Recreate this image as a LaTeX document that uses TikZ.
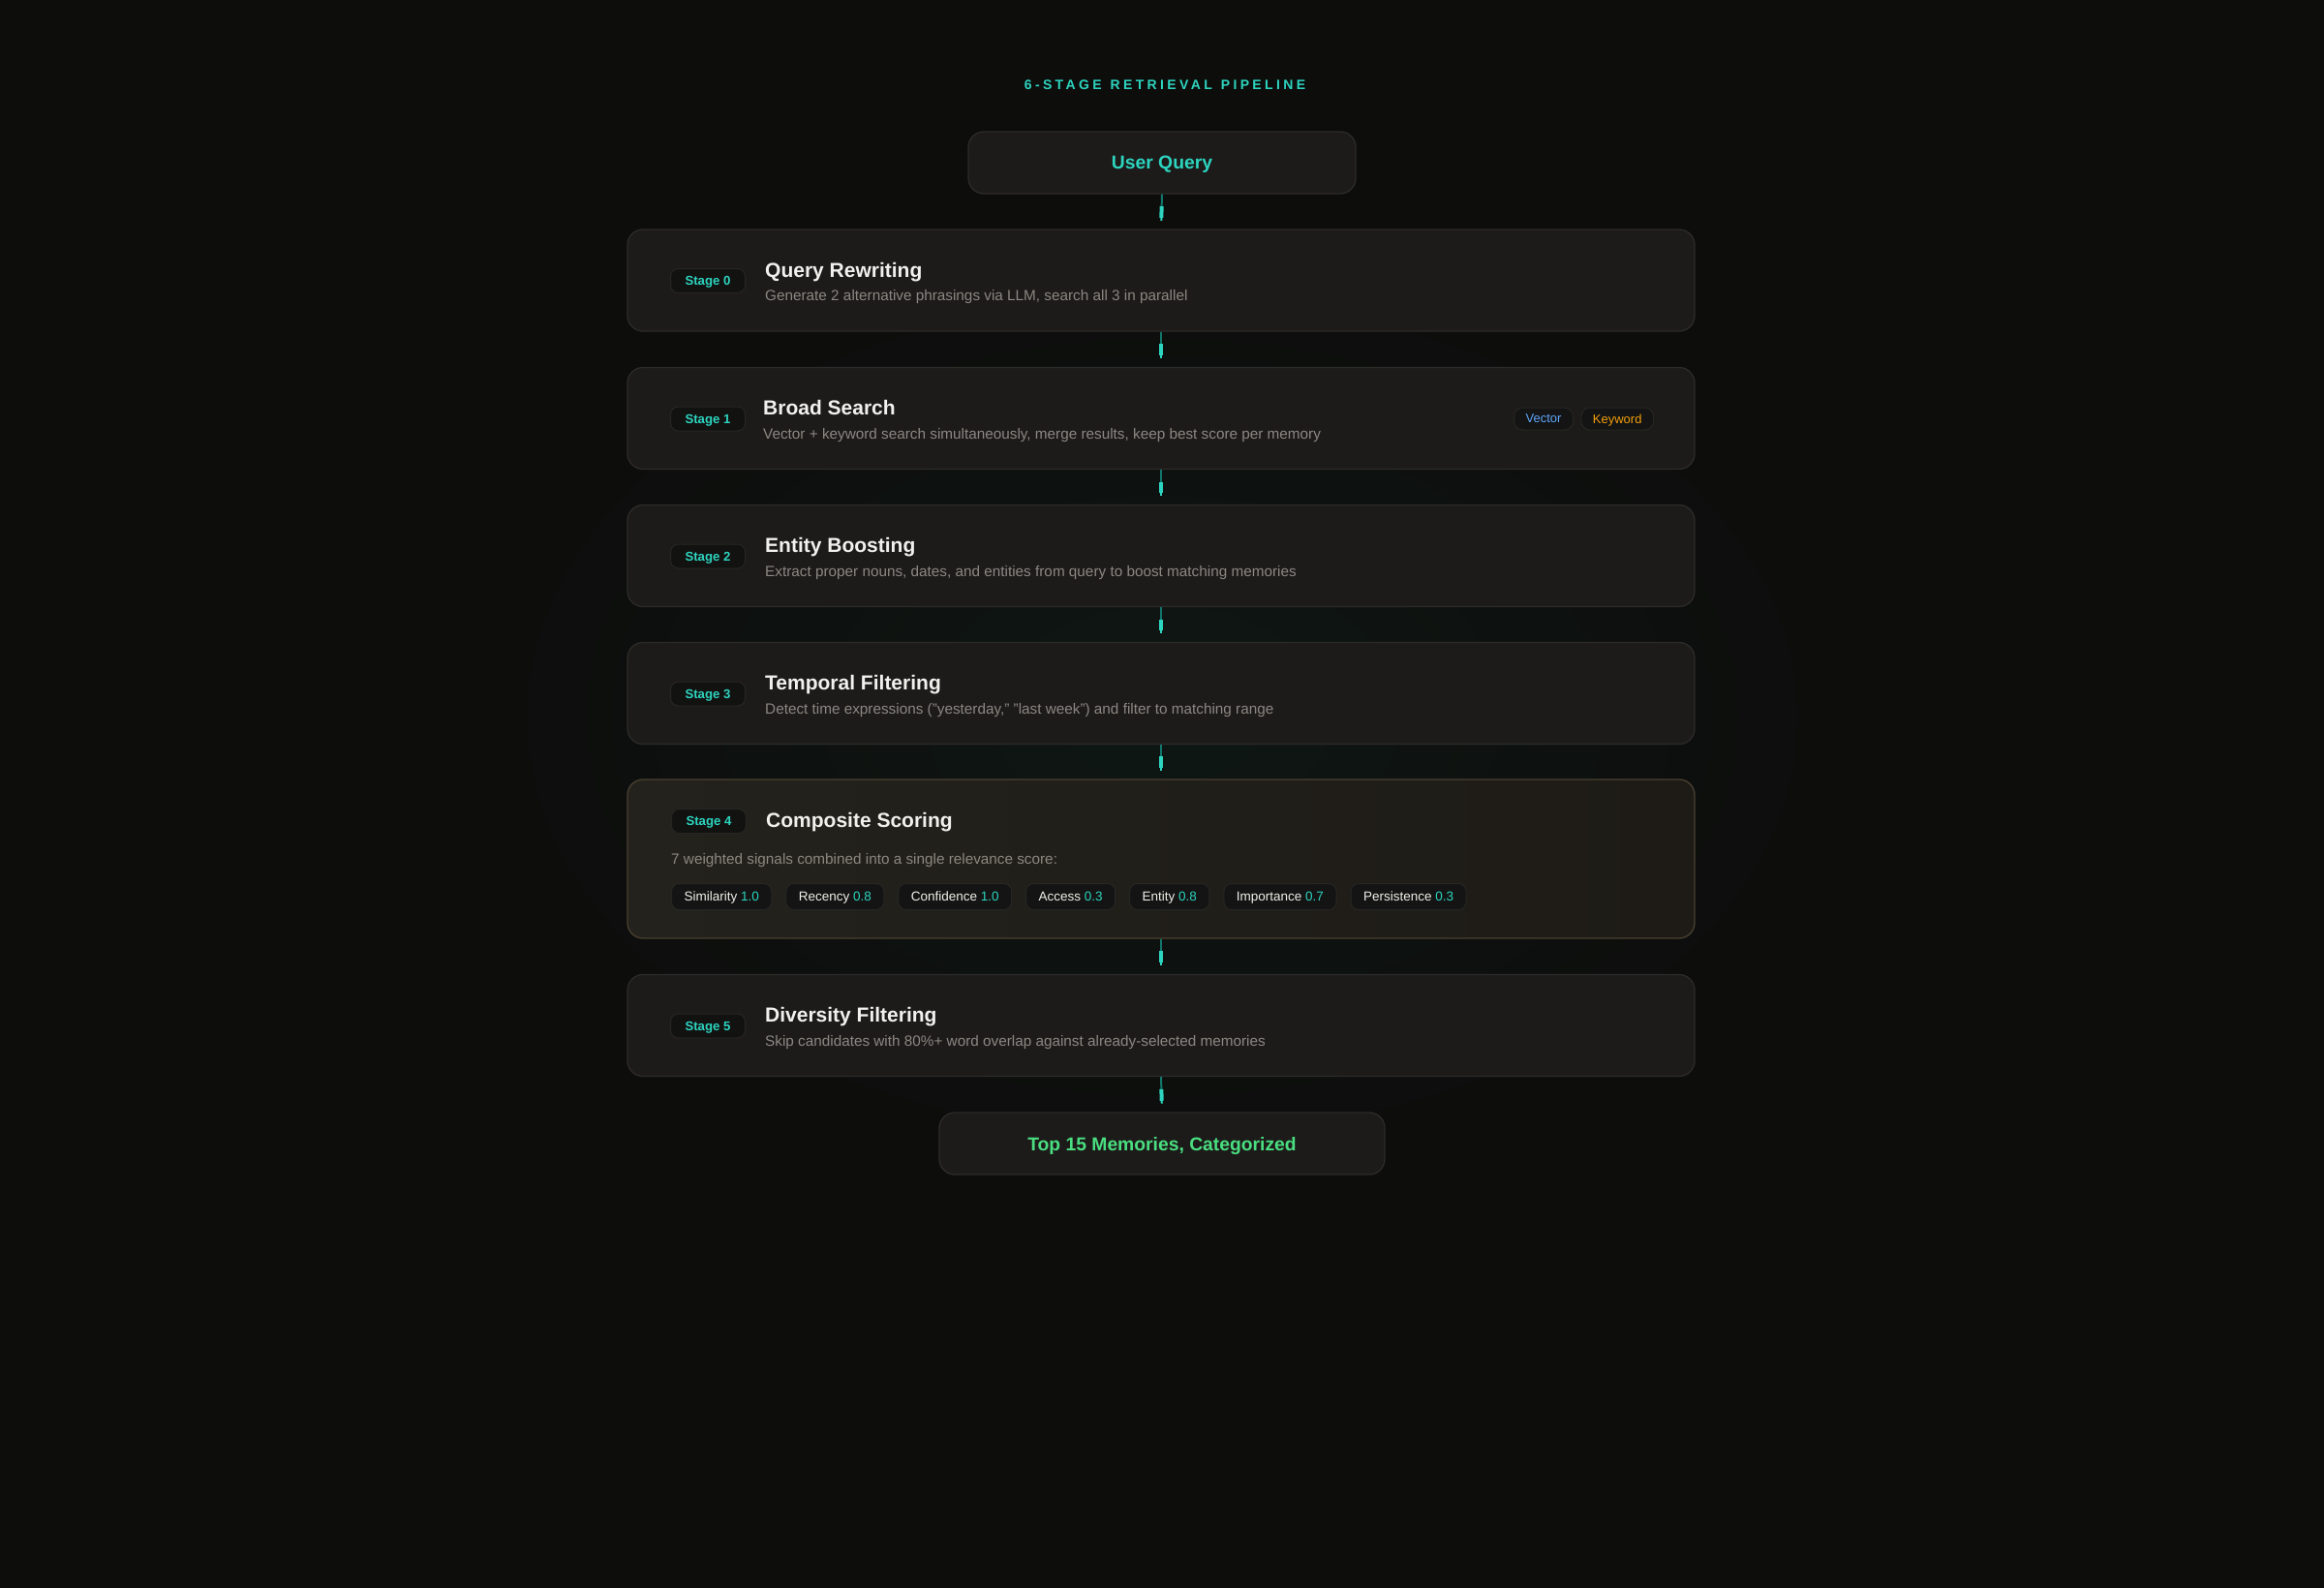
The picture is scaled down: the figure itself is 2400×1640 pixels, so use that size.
\documentclass[tikz,border=0pt]{standalone}
\usepackage{fontspec}
\setmainfont{Liberation Sans}
\newfontfamily\spacedfont{Liberation Sans}[LetterSpace=24]
\usetikzlibrary{calc,positioning}
\definecolor{bg}{HTML}{0D0D0C}
\definecolor{glow}{HTML}{0E1714}
\definecolor{boxfill}{HTML}{1C1B1A}
\definecolor{boxline}{HTML}{2C2B29}
\definecolor{hifillL}{HTML}{23221C}
\definecolor{hifillR}{HTML}{1E1B17}
\definecolor{hiline}{HTML}{4A4030}
\definecolor{accent}{HTML}{2DD4BF}
\definecolor{accentdark}{HTML}{11766C}
\definecolor{okgreen}{HTML}{4ADE80}
\definecolor{titlewhite}{HTML}{F2F0EC}
\definecolor{descgrey}{HTML}{8C8781}
\definecolor{badgefill}{HTML}{121211}
\definecolor{badgeline}{HTML}{272623}
\definecolor{chipfill}{HTML}{131413}
\definecolor{chipline}{HTML}{262624}
\definecolor{vecblue}{HTML}{60A5FA}
\definecolor{kworange}{HTML}{F59E0B}
\newcommand{\linkboxes}[2]{%
  \draw[connlow] (#1.south) -- ($(#1.south)!0.37!(#2.north)$);
  \draw[connhigh] ($(#1.south)!0.35!(#2.north)$) -- ($(#1.south)!0.68!(#2.north)$);
  \draw[conntip] ($(#1.south)!0.66!(#2.north)$) -- ($(#1.south)!0.76!(#2.north)$);
}
\begin{document}
\begin{tikzpicture}[x=1pt,y=-1pt,
  stagebox/.style={draw=boxline, fill=boxfill, line width=1.3pt, rounded corners=16pt,
    minimum width=1102pt, minimum height=105pt, inner sep=0pt},
  endbox/.style={draw=boxline, fill=boxfill, line width=1.3pt, rounded corners=16pt,
    minimum height=64pt, inner sep=0pt, text depth=0pt, font=\bfseries\fontsize{19.3}{23}\selectfont},
  badge/.style={draw=badgeline, fill=badgefill, line width=1pt, rounded corners=8pt,
    minimum width=77pt, minimum height=25pt, inner sep=0pt, text depth=0pt, text=accent,
    font=\bfseries\fontsize{13.2}{16}\selectfont},
  ttl/.style={anchor=base west, inner sep=0pt, text=titlewhite,
    font=\bfseries\fontsize{21}{25}\selectfont},
  dsc/.style={anchor=base west, inner sep=0pt, text=descgrey,
    font=\fontsize{15.3}{18}\selectfont},
  chip/.style={draw=chipline, fill=chipfill, line width=1pt, rounded corners=8pt,
    minimum height=27pt, inner xsep=13pt, inner ysep=0pt, text depth=0pt, text=titlewhite,
    font=\fontsize{13.5}{16}\selectfont},
  pilltag/.style={draw=chipline, fill=chipfill, line width=1pt, rounded corners=9pt,
    minimum height=23pt, inner xsep=12pt, inner ysep=0pt, text depth=0pt,
    font=\fontsize{13}{16}\selectfont},
  connlow/.style={draw=accentdark, line width=2pt},
  connhigh/.style={draw=accent, line width=4pt},
  conntip/.style={draw=accent, line width=2pt},
  node distance=14pt]

\useasboundingbox (0,0) rectangle (2400,1640);
\fill[bg] (0,0) rectangle (2400,1640);
\shade[inner color=glow, outer color=bg] (1200,740) ellipse [x radius=700pt, y radius=460pt];

% title
\node[text=accent, font=\spacedfont\bfseries\fontsize{14}{16}\selectfont] (title) at (1203,88)
  {6-STAGE\hspace{9pt}RETRIEVAL\hspace{9pt}PIPELINE};

% end boxes
\node[endbox, minimum width=400pt, text=accent] (uq) at (1200,168) {User Query};
\node[endbox, minimum width=460pt, text=okgreen] (out) at (1200,1181) {Top 15 Memories, Categorized};

% stage boxes
\node[stagebox] (s0) at (1199,289.5) {};
\node[stagebox] (s1) at (1199,432) {};
\node[stagebox] (s2) at (1199,574) {};
\node[stagebox] (s3) at (1199,716) {};
\node[stagebox, draw=hiline, left color=hifillL, right color=hifillR, minimum height=164pt] (s4) at (1199,887) {};
\node[stagebox] (s5) at (1199,1059) {};

% stage 0
\node[badge] (b0) at (731,290) {Stage 0};
\node[ttl] (t0) at (790,286) {Query Rewriting};
\node[dsc] (d0) at (790,310.5) {Generate 2 alternative phrasings via LLM, search all 3 in parallel};

% stage 1
\node[badge] (b1) at (731,432.5) {Stage 1};
\node[ttl] (t1) at (788,428.5) {Broad Search};
\node[dsc] (d1) at (788,453) {Vector + keyword search simultaneously, merge results, keep best score per memory};
\node[pilltag, text=kworange, anchor=east] (kw) at (1708,432.5) {Keyword};
\node[pilltag, text=vecblue, anchor=east] (vec) at (1625,432.5) {Vector};

% stage 2
\node[badge] (b2) at (731,574.5) {Stage 2};
\node[ttl] (t2) at (790,570.5) {Entity Boosting};
\node[dsc] (d2) at (790,595) {Extract proper nouns, dates, and entities from query to boost matching memories};

% stage 3
\node[badge] (b3) at (731,716.5) {Stage 3};
\node[ttl] (t3) at (790,712.5) {Temporal Filtering};
\node[dsc] (d3) at (790,737) {Detect time expressions ("yesterday," "last week") and filter to matching range};

% stage 4
\node[badge] (b4) at (732,848) {Stage 4};
\node[ttl] (t4) at (791,854.5) {Composite Scoring};
\node[dsc] (d4) at (693,892) {7 weighted signals combined into a single relevance score:};
\node[chip, anchor=west] (c1) at (693,926) {Similarity \textcolor{accent}{1.0}};
\node[chip, right=of c1] (c2) {Recency \textcolor{accent}{0.8}};
\node[chip, right=of c2] (c3) {Confidence \textcolor{accent}{1.0}};
\node[chip, right=of c3] (c4) {Access \textcolor{accent}{0.3}};
\node[chip, right=of c4] (c5) {Entity \textcolor{accent}{0.8}};
\node[chip, right=of c5] (c6) {Importance \textcolor{accent}{0.7}};
\node[chip, right=of c6] (c7) {Persistence \textcolor{accent}{0.3}};

% stage 5
\node[badge] (b5) at (731,1059.5) {Stage 5};
\node[ttl] (t5) at (790,1055.5) {Diversity Filtering};
\node[dsc] (d5) at (790,1080) {Skip candidates with 80\%+ word overlap against already-selected memories};

% connectors
\linkboxes{uq}{s0}
\linkboxes{s0}{s1}
\linkboxes{s1}{s2}
\linkboxes{s2}{s3}
\linkboxes{s3}{s4}
\linkboxes{s4}{s5}
\linkboxes{s5}{out}
\end{tikzpicture}
\end{document}
